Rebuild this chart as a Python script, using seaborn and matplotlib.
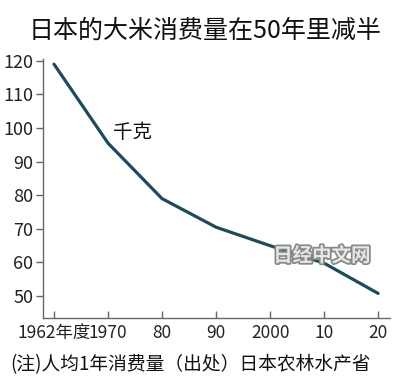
import matplotlib
matplotlib.use("Agg")
import matplotlib.pyplot as plt
import matplotlib.patheffects as pe
import seaborn as sns
import pandas as pd
import numpy as np

years = ["1962年度", "1970", "80", "90", "2000", "10", "20"]
consumption = [119.0, 95.5, 79.0, 70.5, 65.0, 59.8, 50.8]
yticks = [50, 60, 70, 80, 90, 100, 110, 120]

sns.set_theme(style="white")
plt.rcParams['font.family'] = ['Noto Sans CJK SC', 'DejaVu Sans']

df = pd.DataFrame({"pos": np.arange(len(years)), "kg": consumption})

fig = plt.figure(figsize=(4.0, 3.84), dpi=100)
ax = fig.add_axes([0.1075, 0.172, 0.8675, 0.674])
sns.lineplot(data=df, x="pos", y="kg", ax=ax, color="#1e4b5b", linewidth=2.3)

ax.set_xlim(-0.204, 6.22)
ax.set_ylim(43.5, 120.5)
ax.set_yticks(yticks)
ax.set_xticks(np.arange(len(years)))
narrow = ['Liberation Sans Narrow', 'Noto Sans CJK SC', 'DejaVu Sans']
ax.set_yticklabels([str(v) for v in yticks], family=narrow, fontsize=13, color="#222222")
ax.set_xticklabels(years, family=narrow, fontsize=12.5, color="#222222")
ax.set_xlabel("")
ax.set_ylabel("")
for s in ["top", "right"]:
    ax.spines[s].set_visible(False)
for s in ["left", "bottom"]:
    ax.spines[s].set_color("#666666")
    ax.spines[s].set_linewidth(1.0)
ax.tick_params(axis="y", direction="out", length=5, width=1, color="#666666", pad=2, left=True)
ax.tick_params(axis="x", direction="in", length=5, width=1, color="#666666", pad=4, bottom=True)

ax.text(1.46, 98.7, "千克", fontsize=14, ha="center", va="center", color="#111111")

fig.text(0.513, 0.92, "日本的大米消费量在50年里减半", fontsize=18, ha="center", va="center", color="#111111")
fig.text(0.025, 0.05, "(注)人均1年消费量（出处）日本农林水产省", fontsize=13.5, ha="left", va="center", color="#111111")
fig.text(0.805, 0.333, "日经中文网", fontsize=14, fontweight="bold", ha="center", va="center",
         color="#e6e6e6",
         path_effects=[pe.withStroke(linewidth=2.5, foreground="#888888")])

fig.savefig("out.png", dpi=100, facecolor="white")
